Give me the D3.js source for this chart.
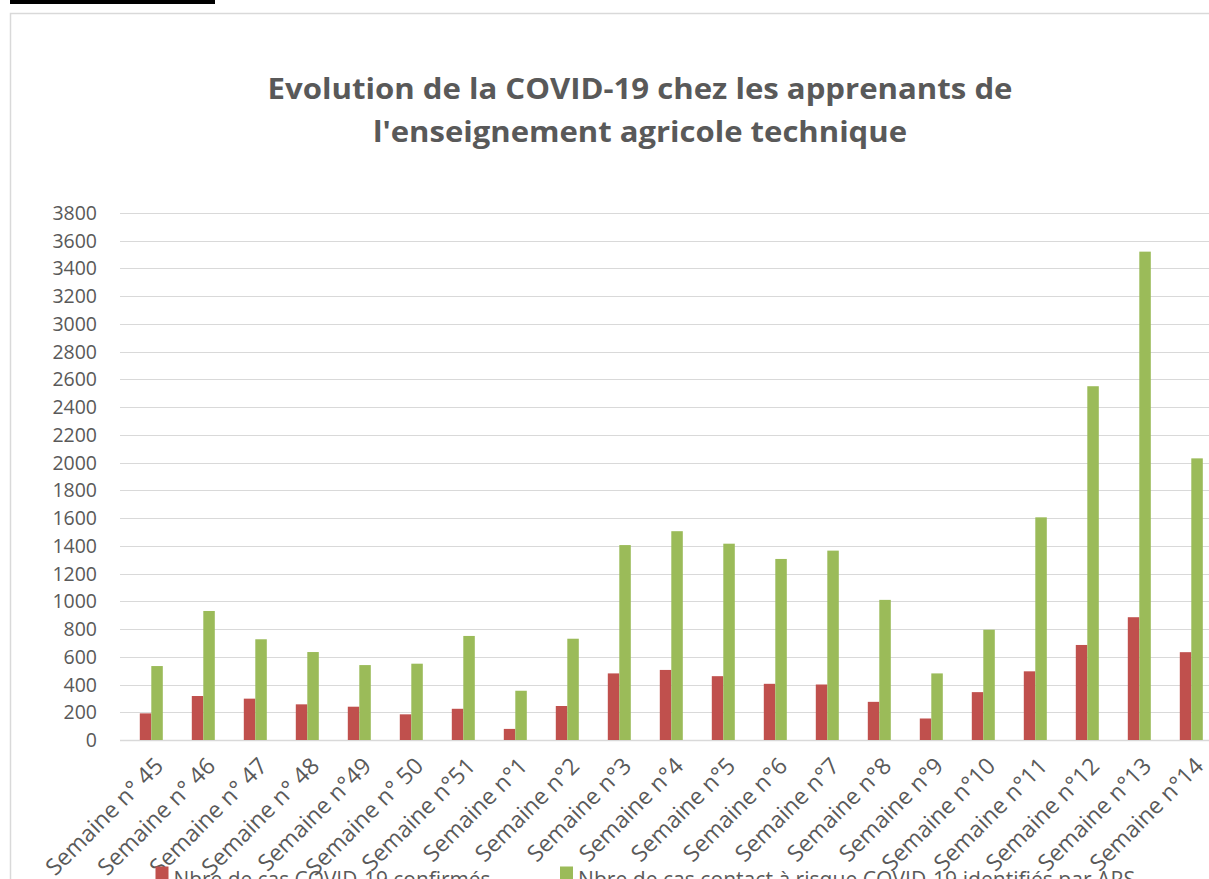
<!DOCTYPE html>
<html>
<head>
<meta charset="utf-8">
<script src="https://cdn.jsdelivr.net/npm/d3@7"></script>
<style>
  html, body { margin: 0; padding: 0; background: #fff; }
  svg { display: block; font-family: 'Open Sans', 'Noto Sans', sans-serif; }
</style>
</head>
<body>
<div id="chart"></div>
<script>
/* ===== Data ===== */
const weeks = [
  'Semaine n° 45', 'Semaine n° 46', 'Semaine n° 47', 'Semaine n° 48', 'Semaine n°49',
  'Semaine n° 50', 'Semaine n°51', 'Semaine n°1', 'Semaine n°2', 'Semaine n°3',
  'Semaine n°4', 'Semaine n°5', 'Semaine n°6', 'Semaine n°7', 'Semaine n°8',
  'Semaine n°9', 'Semaine n°10', 'Semaine n°11', 'Semaine n°12', 'Semaine n°13',
  'Semaine n°14'
];
const confirmes = [192, 317, 298, 257, 240, 185, 225, 80, 245, 480, 505, 460, 405, 400, 275, 155, 345, 495, 685, 885, 633];
const contacts = [533, 930, 726, 634, 540, 550, 750, 355, 730, 1405, 1505, 1415, 1305, 1365, 1010, 480, 795, 1605, 2550, 3520, 2030];
const seriesNames = ['Nbre de cas COVID-19 confirmés', 'Nbre de cas contact à risque COVID-19 identifiés par ARS'];
const seriesColors = ['#c0504d', '#9bbb59'];
const yTicks = d3.range(0, 3801, 200);
const titleLines = ['Evolution de la COVID-19 chez les apprenants de', "l'enseignement agricole technique"];

const W = 1209, H = 879;
const textGray = '#595959';
const gridGray = '#d9d9d9';

const svg = d3.select('#chart').append('svg')
  .attr('width', W)
  .attr('height', H);

// cropped underline above the frame
svg.append('rect').attr('x', 10).attr('y', 0).attr('width', 205).attr('height', 4).attr('fill', '#000');
svg.append('line').attr('x1', 60).attr('x2', 60).attr('y1', 0).attr('y2', 1).attr('stroke', '#000');
svg.append('line').attr('x1', 110).attr('x2', 110).attr('y1', 0).attr('y2', 1).attr('stroke', '#000');

// chart frame (cut off on the right and bottom)
svg.append('path')
  .attr('d', `M10.5,${H + 2} V13.5 H${W + 2}`)
  .attr('fill', 'none')
  .attr('stroke', gridGray)
  .attr('stroke-width', 1.5);

/* ---- Title ---- */
const titleY = [99, 142];
const titleW = [745, 534];
svg.selectAll('.title')
  .data(titleLines)
  .join('text')
  .attr('class', 'title')
  .attr('x', 640)
  .attr('y', (d, i) => titleY[i])
  .attr('text-anchor', 'middle')
  .attr('fill', textGray)
  .attr('font-size', '28px')
  .attr('font-weight', 700)
  .attr('textLength', (d, i) => titleW[i])
  .attr('lengthAdjust', 'spacingAndGlyphs')
  .text(d => d);

/* ---- Scales ---- */
const plotLeft = 120, plotRight = W + 10;
const step = 52;
const x = d3.scaleBand()
  .domain(weeks)
  .range([125.3, 125.3 + step * weeks.length])
  .padding(0);

const groupW = 23;
const xs = d3.scaleBand()
  .domain([0, 1])
  .range([(step - groupW) / 2, (step + groupW) / 2]);

const y = d3.scaleLinear()
  .domain([0, 3800])
  .range([740, 212.8]);

/* ---- Grid ---- */
svg.append('g')
  .selectAll('line')
  .data(yTicks)
  .join('line')
  .attr('x1', plotLeft)
  .attr('x2', plotRight)
  .attr('y1', d => Math.round(y(d)) + 0.5)
  .attr('y2', d => Math.round(y(d)) + 0.5)
  .attr('stroke', gridGray)
  .attr('stroke-width', d => d === 0 ? 1.6 : 1.2);

// Y labels
svg.append('g')
  .selectAll('text')
  .data(yTicks)
  .join('text')
  .attr('x', 97)
  .attr('y', d => y(d))
  .attr('dy', '0.36em')
  .attr('text-anchor', 'end')
  .attr('fill', textGray)
  .attr('font-size', '19.5px')
  .text(d => d);

/* ---- Bars ---- */
const rows = weeks.map((w, i) => ({ week: w, values: [confirmes[i], contacts[i]] }));

const groups = svg.append('g')
  .selectAll('g')
  .data(rows)
  .join('g')
  .attr('transform', d => `translate(${x(d.week)},0)`);

groups.selectAll('rect')
  .data(d => d.values.map((v, k) => ({ k, v })))
  .join('rect')
  .attr('x', d => xs(d.k))
  .attr('y', d => y(d.v))
  .attr('width', xs.bandwidth())
  .attr('height', d => y(0) - y(d.v))
  .attr('fill', d => seriesColors[d.k]);

/* ---- X labels ---- */
svg.append('g')
  .selectAll('text')
  .data(weeks)
  .join('text')
  .attr('transform', d => `translate(${x(d) + step / 2 + 2},${756}) rotate(-45)`)
  .attr('text-anchor', 'end')
  .attr('dy', '0.7em')
  .attr('fill', textGray)
  .attr('font-size', '23px')
  .text(d => d);

/* ---- Legend ---- */
const legendX = [155.5, 560];
const legendW = [317, 557];
const legend = svg.append('g')
  .selectAll('g')
  .data(seriesNames)
  .join('g')
  .attr('transform', (d, i) => `translate(${legendX[i]},866.5)`);

legend.append('rect')
  .attr('width', 13)
  .attr('height', 13)
  .attr('fill', (d, i) => seriesColors[i]);

legend.append('text')
  .attr('x', 18)
  .attr('y', 20)
  .attr('fill', textGray)
  .attr('font-size', '21px')
  .attr('textLength', (d, i) => legendW[i])
  .attr('lengthAdjust', 'spacingAndGlyphs')
  .text(d => d);
</script>
</body>
</html>
